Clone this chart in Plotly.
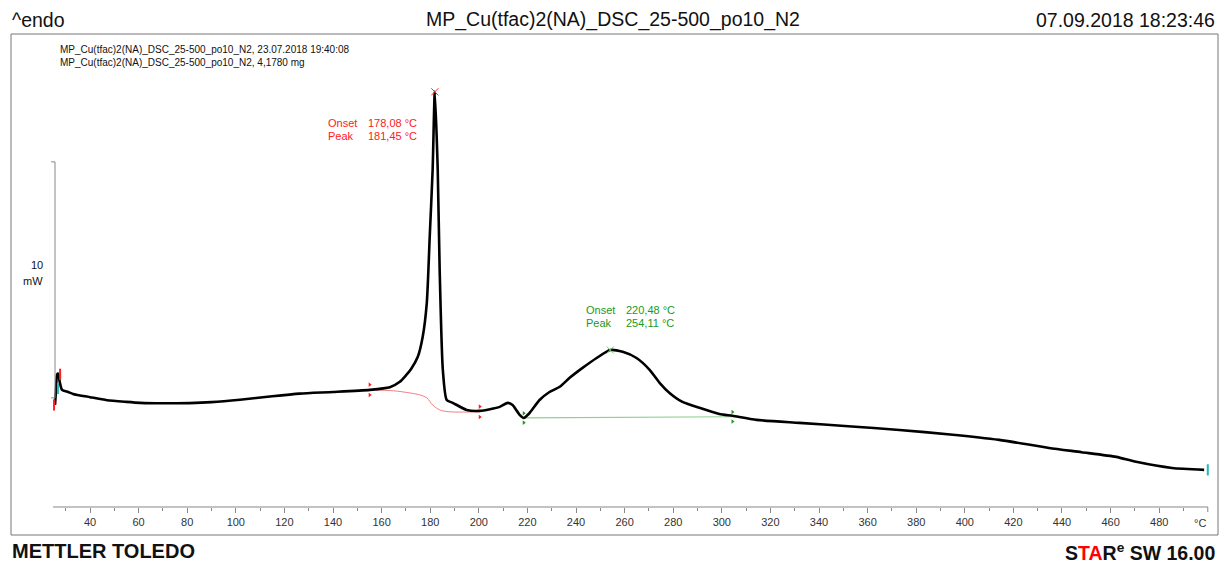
import plotly.graph_objects as go

# ---- data (temperature in °C, heat flow in mW, relative) ----
temp = [25.6, 26.0, 26.5, 27.0, 27.5, 28.5, 31.0, 33.0, 40.0, 47.0, 55.0, 60.6, 70.0, 81.0, 90.0,
        101.7, 115.0, 126.3, 140.0, 155.1, 163.4, 167.5, 170.0, 172.0, 174.9, 176.9, 178.6, 179.8,
        181.0, 181.9, 183.1, 183.9, 185.2, 186.8, 189.3, 195.0, 200.4, 208.6, 211.9, 213.9, 216.8,
        218.5, 220.9, 225.0, 229.1, 233.3, 237.4, 242.7, 248.5, 254.1, 259.2, 264.9, 270.3, 274.4,
        278.5, 283.8, 290.8, 299.0, 304.4, 314.3, 331.9, 352.0, 373.1, 394.0, 414.2, 434.7, 448.0,
        462.3, 470.5, 485.3, 498.5]
heatflow = [-0.30, 0.30, 1.00, 1.02, 0.70, 0.34, 0.25, 0.17, 0.03, -0.10, -0.17, -0.21, -0.23, -0.22,
            -0.18, -0.08, 0.07, 0.18, 0.25, 0.34, 0.45, 0.68, 0.95, 1.20, 1.74, 2.58, 4.03, 6.82,
            9.66, 12.97, 9.66, 5.42, 1.19, -0.09, -0.21, -0.51, -0.55, -0.38, -0.21, -0.30, -0.72,
            -0.85, -0.64, -0.09, 0.25, 0.47, 0.85, 1.27, 1.69, 2.03, 1.95, 1.69, 1.19, 0.64,
            0.21, -0.17, -0.42, -0.68, -0.76, -0.93, -1.06, -1.20, -1.36, -1.55, -1.78, -2.12, -2.30,
            -2.50, -2.71, -2.97, -3.05]

base1_t = [155.1, 165.0, 171.6, 176.0, 178.6, 181.0, 183.9, 188.0, 200.4]
base1_v = [0.34, 0.30, 0.21, 0.12, 0.00, -0.30, -0.51, -0.59, -0.59]
base2_t = [218.5, 304.4]
base2_v = [-0.85, -0.80]

peak1 = (181.9, 12.97)
peak2 = (254.1, 2.03)
limits1 = [155.1, 200.4]
limits1_v = [0.34, -0.59]
limits2 = [218.5, 304.4]
limits2_v = [-0.85, -0.80]

tick_major = [40, 60, 80, 100, 120, 140, 160, 180, 200, 220, 240, 260, 280, 300, 320, 340, 360,
              380, 400, 420, 440, 460, 480]
tick_labels = [str(v) for v in tick_major]
tick_minor = [30, 50, 70, 90, 110, 130, 150, 170, 190, 210, 230, 250, 270, 290, 310, 330, 350,
              370, 390, 410, 430, 450, 470, 490]
axis_start, axis_end = 24.8, 500

RED = "#ff2020"
GREEN = "#1a9a1a"
CYAN = "#20b8b8"
FONT = "Liberation Sans"

fig = go.Figure()

fig.add_trace(go.Scatter(x=base1_t, y=base1_v, mode="lines",
                         line=dict(color="#f28080", width=1, shape="spline", smoothing=0.8),
                         hoverinfo="skip"))
fig.add_trace(go.Scatter(x=base2_t, y=base2_v, mode="lines",
                         line=dict(color="#8fcf8f", width=1.2), hoverinfo="skip"))
fig.add_trace(go.Scatter(x=temp, y=heatflow, mode="lines",
                         line=dict(color="black", width=2.6, shape="spline", smoothing=0.6)))

# integration limit markers
fig.add_trace(go.Scatter(x=limits1 + limits1, y=[v + 0.22 for v in limits1_v] + [v - 0.22 for v in limits1_v],
                         mode="markers", marker=dict(symbol="triangle-right", size=4, color=RED)))
fig.add_trace(go.Scatter(x=limits2 + limits2, y=[v + 0.2 for v in limits2_v] + [v - 0.2 for v in limits2_v],
                         mode="markers", marker=dict(symbol="triangle-right", size=4, color=GREEN)))
# peak markers
fig.add_trace(go.Scatter(x=[peak1[0]], y=[peak1[1]], mode="markers",
                         marker=dict(symbol="x-thin", size=7, line=dict(color=RED, width=1))))
fig.add_trace(go.Scatter(x=[peak2[0]], y=[peak2[1]], mode="markers",
                         marker=dict(symbol="x-thin", size=7, line=dict(color="#6fcf6f", width=1))))
# curve start / end brackets
fig.add_trace(go.Scatter(x=[25.2, 27.7], y=[-0.30, 1.0], mode="markers",
                         marker=dict(symbol="line-ns", size=8, line=dict(color=RED, width=2))))
fig.add_trace(go.Scatter(x=[26.8, 500.0], y=[0.40, -3.05], mode="markers",
                         marker=dict(symbol="line-ns", size=8, line=dict(color=CYAN, width=2))))

AXIS_POS = 0.0559
shapes = [
    # frame
    dict(type="rect", xref="paper", yref="paper", x0=0, x1=1, y0=0, y1=1,
         line=dict(color="#777777", width=1)),
    # x axis line and its end tick
    dict(type="line", xref="x", yref="paper", x0=axis_start, x1=axis_end, y0=AXIS_POS, y1=AXIS_POS,
         line=dict(color="#888888", width=1)),
    dict(type="line", xref="x", yref="paper", x0=axis_end, x1=axis_end, y0=AXIS_POS, y1=AXIS_POS - 0.01,
         line=dict(color="#888888", width=1)),
    # scale bar (10 mW)
    dict(type="line", xref="x", yref="y", x0=25.6, x1=25.6, y0=0, y1=10,
         line=dict(color="#888888", width=1)),
    dict(type="line", xref="x", yref="y", x0=24.0, x1=25.6, y0=10, y1=10,
         line=dict(color="#888888", width=1)),
    dict(type="line", xref="x", yref="y", x0=24.0, x1=25.6, y0=0, y1=0,
         line=dict(color="#888888", width=1)),
]

W, H = 1220, 563
PL, PT, PW, PH = 11, 34, 1207, 501

def ann(xp, yp, text, size, color="#111111", xanchor="left", bold=False):
    # xp, yp are page pixel positions, converted to paper coordinates of the plot area
    return dict(x=(xp - PL) / PW, y=(PT + PH - yp) / PH, xref="paper", yref="paper",
                text=f"<b>{text}</b>" if bold else text,
                showarrow=False, xanchor=xanchor, yanchor="middle",
                font=dict(family=FONT, size=size, color=color))

annotations = [
    ann(10, 20, "^endo", 19.5),
    ann(613, 20, "MP_Cu(tfac)2(NA)_DSC_25-500_po10_N2", 19.5, xanchor="center"),
    ann(1217, 20, "07.09.2018 18:23:46", 19.5, xanchor="right"),
    ann(10, 551, "METTLER TOLEDO", 20, bold=True),
    ann(1217, 552, "S<span style='color:#ff0000'>TA</span>R<sup>e</sup> SW 16.00", 19.5,
        xanchor="right", bold=True),
    ann(58, 49, "MP_Cu(tfac)2(NA)_DSC_25-500_po10_N2, 23.07.2018 19:40:08", 10),
    ann(58, 62, "MP_Cu(tfac)2(NA)_DSC_25-500_po10_N2, 4,1780 mg", 10),
    ann(45, 265, "10", 11, xanchor="right"),
    ann(45, 281, "mW", 11, xanchor="right"),
    ann(1200, 523, "°C", 11, color="#333333", xanchor="center"),
    ann(326, 123, "Onset", 11, color=RED),
    ann(366, 123, "178,08 °C", 11, color=RED),
    ann(326, 136, "Peak", 11, color=RED),
    ann(366, 136, "181,45 °C", 11, color=RED),
    ann(584, 310, "Onset", 11, color=GREEN),
    ann(624, 310, "220,48 °C", 11, color=GREEN),
    ann(584, 323, "Peak", 11, color=GREEN),
    ann(624, 323, "254,11 °C", 11, color=GREEN),
]

fig.update_layout(
    width=W, height=H,
    margin=dict(l=PL, r=W - PL - PW, t=PT, b=H - PT - PH),
    paper_bgcolor="white", plot_bgcolor="white",
    showlegend=False,
    shapes=shapes, annotations=annotations,
    xaxis=dict(range=[7.49, 504.2], anchor="free", position=AXIS_POS,
               showgrid=False, zeroline=False, showline=False,
               tickmode="array", tickvals=tick_major, ticktext=tick_labels,
               ticks="outside", ticklen=5, tickcolor="#888888", tickwidth=1,
               tickfont=dict(family=FONT, size=11, color="#333333"),
               minor=dict(tickmode="array", tickvals=tick_minor, ticks="outside",
                          ticklen=3, tickcolor="#888888", tickwidth=1, showgrid=False)),
    yaxis=dict(range=[-5.81, 15.42], visible=False, showgrid=False, zeroline=False),
)

fig.write_html("out.html", config={"displayModeBar": False},
               post_script="document.body.style.margin='0px';")
